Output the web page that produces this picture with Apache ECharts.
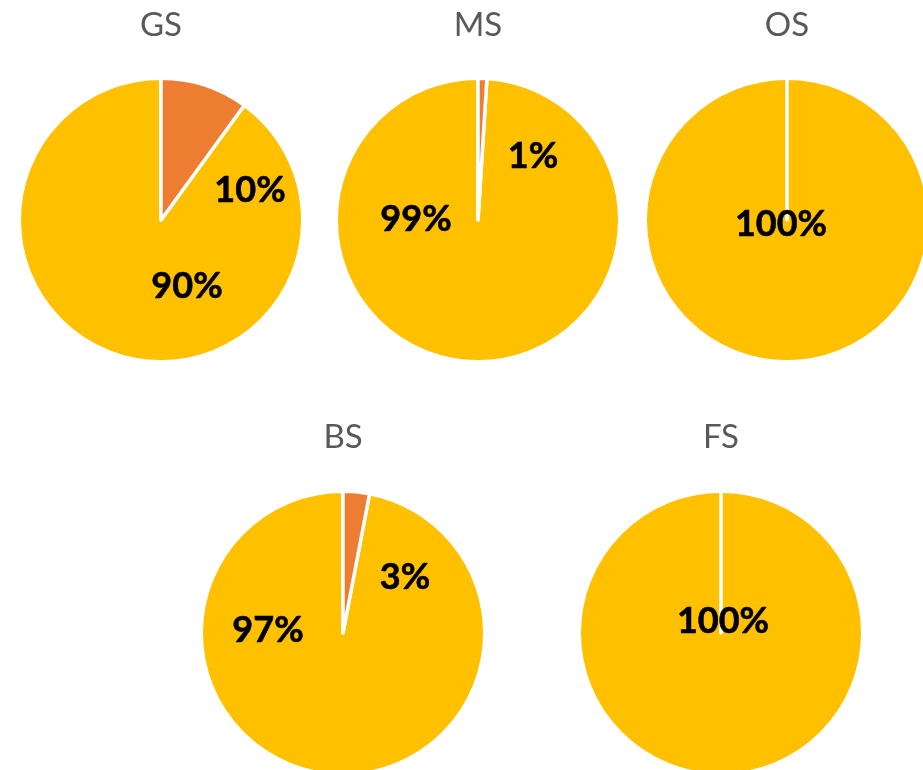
<!DOCTYPE html>
<html>
<head>
<meta charset="utf-8">
<script src="https://cdn.jsdelivr.net/npm/echarts@6/dist/echarts.min.js"></script>
<style>
  html, body { margin: 0; padding: 0; background: #fff; }
  #chart { width: 923px; height: 770px; }
</style>
</head>
<body>
<div id="chart"></div>
<script>
// 数据
var pieNames = ['GS', 'MS', 'OS', 'BS', 'FS'];
var sliceNames = ['A', 'B'];
var yellowValues = [90, 99, 100, 97, 100];
var orangeValues = [10, 1, 0, 3, 0];

// 布局
var centers = [[161, 220], [478, 220], [787, 220], [343, 633], [721, 633]];
var titleTops = [5, 5, 5, 417, 417];
// label offsets from pie centre: [yellow, orange]
var labelOffsets = [
    [[26, 66], [89, -30]],
    [[-62, -1], [55, -64]],
    [[-6, 4], [0, 0]],
    [[-75, -3], [62, -56]],
    [[2, -12], [0, 0]]
];

var colors = ['#FFC000', '#ED7D31'];

var titles = [];
var series = [];
for (var i = 0; i < pieNames.length; i++) {
    titles.push({
        text: pieNames[i],
        left: centers[i][0],
        top: titleTops[i],
        textAlign: 'center',
        padding: 0,
        textStyle: {
            fontFamily: 'Lato',
            fontWeight: 'normal',
            fontSize: 33,
            lineHeight: 40,
            color: '#595959'
        }
    });

    var vals = [yellowValues[i], orangeValues[i]];
    var data = [];
    for (var j = 0; j < vals.length; j++) {
        data.push({
            name: sliceNames[j],
            value: vals[j],
            itemStyle: { color: colors[j] },
            label: { show: vals[j] > 0 }
        });
    }

    series.push({
        type: 'pie',
        center: centers[i],
        radius: 141.75,
        startAngle: 90,
        clockwise: false,
        minAngle: 0,
        avoidLabelOverlap: false,
        itemStyle: { borderColor: '#fff', borderWidth: 3.5 },
        emphasis: { disabled: true },
        label: {
            position: 'inside',
            formatter: '{d}%',
            fontFamily: 'Lato',
            fontWeight: 'bold',
            fontSize: 36,
            color: '#000',
            textBorderColor: '#000',
            textBorderWidth: 0.6,
            align: 'center',
            verticalAlign: 'middle'
        },
        labelLine: { show: false },
        labelLayout: (function (idx) {
            return function (params) {
                var off = labelOffsets[idx][params.dataIndex];
                return {
                    x: centers[idx][0] + off[0],
                    y: centers[idx][1] + off[1]
                };
            };
        })(i),
        data: data
    });
}

var myChart = echarts.init(document.getElementById('chart'));
var option = {
    animation: false,
    backgroundColor: '#fff',
    title: titles,
    tooltip: { show: false },
    series: series
};
myChart.setOption(option);
</script>
</body>
</html>
